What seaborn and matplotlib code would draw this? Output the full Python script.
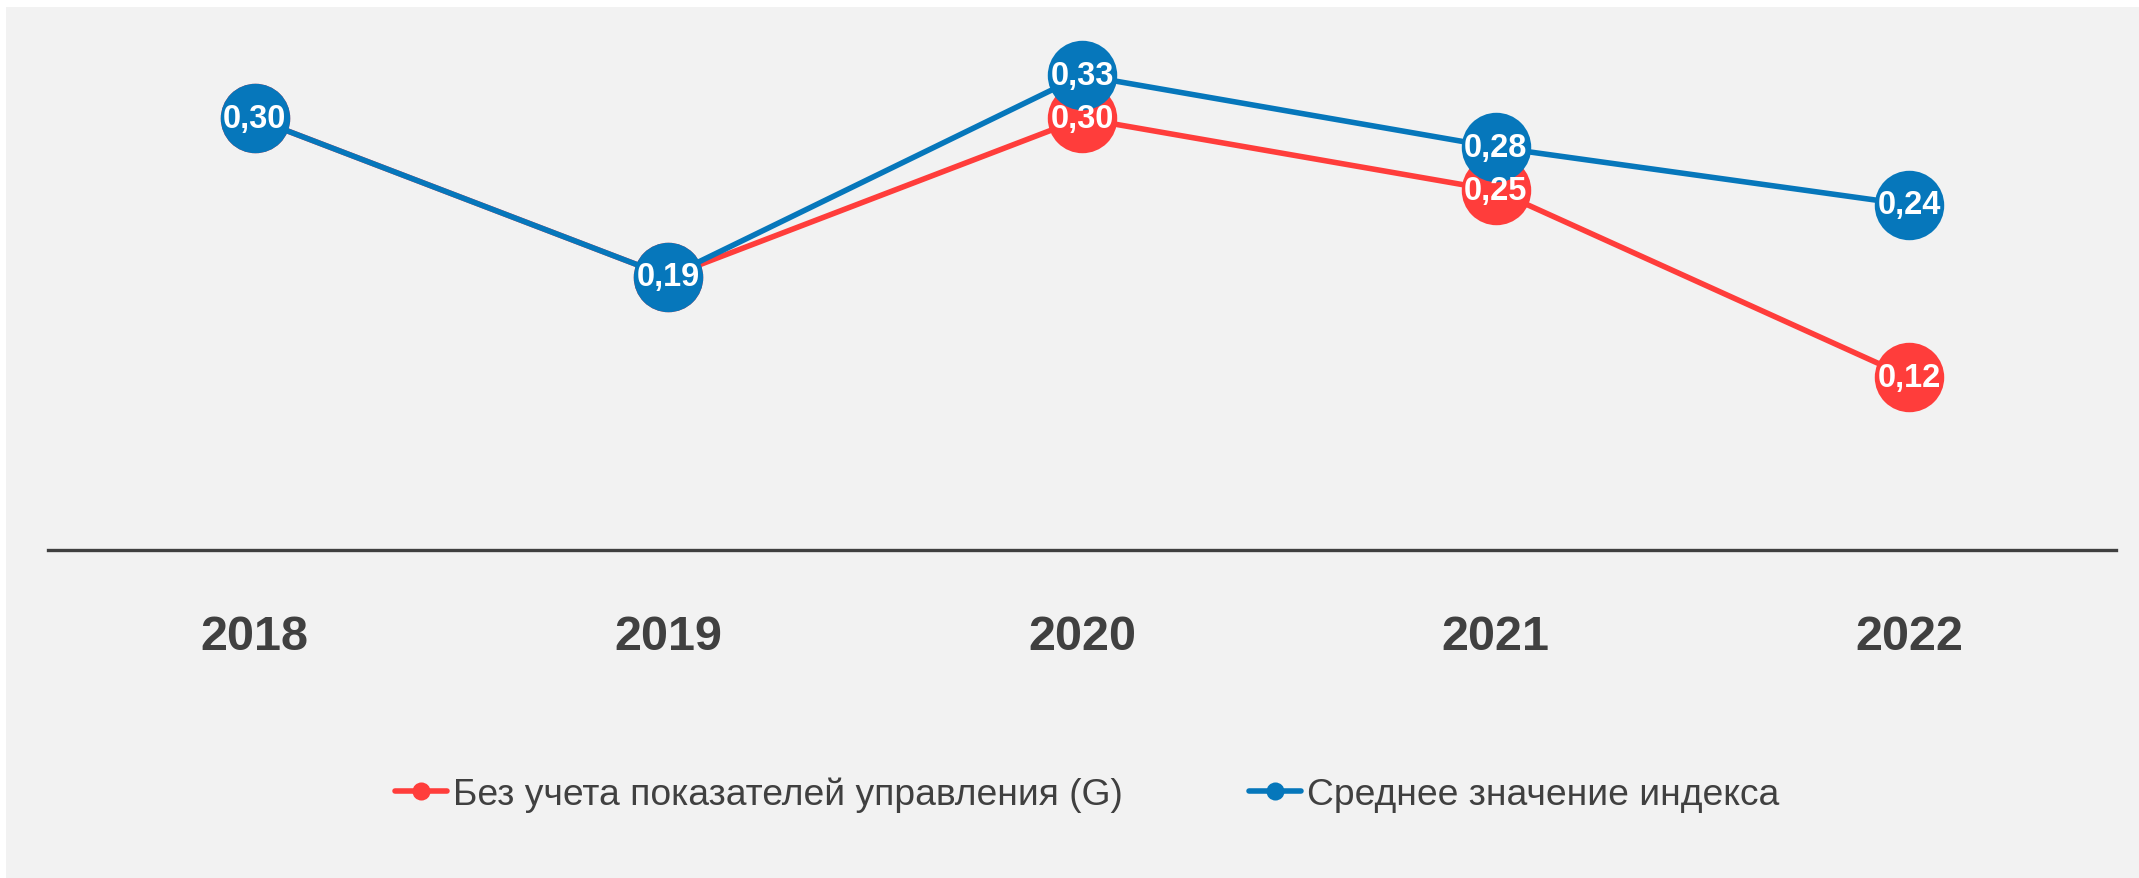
import pandas as pd
import matplotlib.pyplot as plt
import seaborn as sns
from matplotlib.lines import Line2D
from matplotlib.patches import Rectangle

# Данные
years = ['2018', '2019', '2020', '2021', '2022']
bez_g = [0.30, 0.19, 0.30, 0.25, 0.12]
srednee = [0.30, 0.19, 0.33, 0.28, 0.24]
name_red = 'Без учета показателей управления (G)'
name_blue = 'Среднее значение индекса'

red = '#FF3D3B'
blue = '#0677BB'
dark = '#404040'
bg = '#F2F2F2'

df = pd.DataFrame({
    'year': years * 2,
    'value': bez_g + srednee,
    'series': [name_red] * len(years) + [name_blue] * len(years),
})

sns.set_style('white')
plt.rcParams['font.family'] = ['Liberation Sans', 'DejaVu Sans']

fig = plt.figure(figsize=(21.39, 8.79), dpi=100, facecolor='white')
# серый фон как в оригинале (белая полоска слева и сверху)
fig.patches.append(Rectangle((6 / 2139, 0), 1, 1 - 8 / 879, transform=fig.transFigure,
                             facecolor=bg, edgecolor='none', zorder=-10))
ax = fig.add_axes([48 / 2139, 1 - 551 / 879, (2116 - 48) / 2139, (551 - 47.5) / 879])
ax.set_facecolor('none')

sns.lineplot(data=df, x='year', y='value', hue='series', hue_order=[name_red, name_blue],
             palette=[red, blue], marker='o', markersize=50, markeredgewidth=0,
             linewidth=4.0, sort=False, legend=False, ax=ax, clip_on=False)

# подписи значений
for vals in (bez_g, srednee):
    for i, v in enumerate(vals):
        if vals is bez_g and v == srednee[i]:
            continue
        ax.text(i, v, f'{v:.2f}'.replace('.', ','), ha='center', va='center',
                color='white', fontsize=23.5, fontweight='bold', zorder=10)

ax.set_xlim(-0.5, 4.5)
ax.set_ylim(0, 0.35)
ax.set_yticks([])
ax.set_xlabel('')
ax.set_ylabel('')
for s in ['top', 'right', 'left']:
    ax.spines[s].set_visible(False)
ax.spines['bottom'].set_color(dark)
ax.spines['bottom'].set_linewidth(2.4)
ax.tick_params(axis='x', length=0, pad=46, labelsize=35, labelcolor=dark)
for lbl in ax.get_xticklabels():
    lbl.set_fontweight('bold')

handles = [Line2D([], [], color=c, lw=4.0, marker='o', markersize=13, markeredgewidth=0)
           for c in (red, blue)]
fig.legend(handles, [name_red, name_blue], loc='center', bbox_to_anchor=(0.5083, 1 - 795 / 879),
           ncol=2, frameon=False, fontsize=26.8, labelcolor=dark, handlelength=1.4,
           handletextpad=0.15, columnspacing=3.4)

plt.savefig('out.png', dpi=100, facecolor='white')
